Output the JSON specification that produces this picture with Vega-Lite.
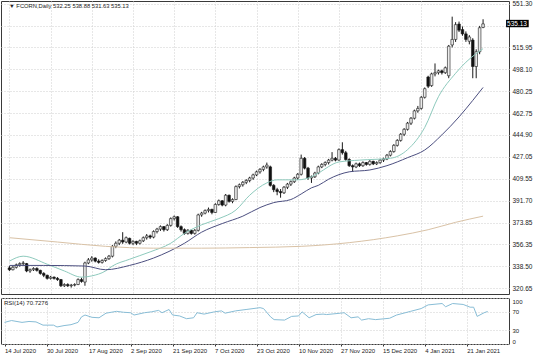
{
"$schema": "https://vega.github.io/schema/vega-lite/v6.json",
"padding": 0,
"spacing": 2,
"background": "white",
"config": {
  "view": {"stroke": "#3a3a3a", "strokeWidth": 1},
  "axis": {"labelFont": "Liberation Sans", "labelColor": "#222", "gridColor": "#cfcfcf", "gridDash": [1, 2], "gridWidth": 1, "title": null, "labelOverlap": false},
  "text": {"font": "Liberation Sans"}
},
"datasets": {
  "bars": [
    {"i":0,"o":337,"h":338.5,"l":334.5,"c":335.5},{"i":1,"o":335.5,"h":338.5,"l":335,"c":337.5},{"i":2,"o":337.5,"h":340.5,"l":336.5,"c":339.5},{"i":3,"o":339.5,"h":341.5,"l":338,"c":340.5},{"i":4,"o":340.5,"h":342.5,"l":339,"c":341},
    {"i":5,"o":340.5,"h":341,"l":333.5,"c":334.5},{"i":6,"o":334.5,"h":336.5,"l":333,"c":335.5},{"i":7,"o":335.5,"h":337.5,"l":334.5,"c":336.5},{"i":8,"o":336.5,"h":337.5,"l":334,"c":335},{"i":9,"o":335,"h":335.5,"l":331.5,"c":332.5},
    {"i":10,"o":332.5,"h":333.5,"l":329.5,"c":331},{"i":11,"o":331,"h":331.5,"l":327.5,"c":328.5},{"i":12,"o":328.5,"h":330.5,"l":327.5,"c":329.5},{"i":13,"o":329.5,"h":330,"l":327.5,"c":328.5},{"i":14,"o":328.5,"h":329.5,"l":326.5,"c":327.5},
    {"i":15,"o":327.5,"h":328,"l":321.5,"c":322.5},{"i":16,"o":322.5,"h":324.5,"l":321.5,"c":323.5},{"i":17,"o":323.5,"h":324.5,"l":321.5,"c":322.5},{"i":18,"o":322.5,"h":324,"l":321,"c":323},{"i":19,"o":323,"h":324.5,"l":322,"c":323.5},
    {"i":20,"o":323.5,"h":328.5,"l":323,"c":327.5},{"i":21,"o":327.5,"h":329,"l":325,"c":326},{"i":22,"o":325.5,"h":342,"l":322.5,"c":341},{"i":23,"o":341,"h":345,"l":340,"c":343.5},{"i":24,"o":343.5,"h":346.5,"l":342,"c":345},
    {"i":25,"o":345,"h":345.5,"l":341.5,"c":342.5},{"i":26,"o":342.5,"h":344,"l":340.5,"c":341.5},{"i":27,"o":341.5,"h":344,"l":340.5,"c":343},{"i":28,"o":343,"h":345.5,"l":342,"c":344.5},{"i":29,"o":344.5,"h":347.5,"l":343.5,"c":346.5},
    {"i":30,"o":346.5,"h":355.5,"l":345.5,"c":354.5},{"i":31,"o":354.5,"h":358.5,"l":353,"c":357},{"i":32,"o":357,"h":360.5,"l":355.5,"c":359.5},{"i":33,"o":359.5,"h":366,"l":356.5,"c":358},{"i":34,"o":358,"h":362.5,"l":357,"c":361.5},
    {"i":35,"o":361,"h":361.5,"l":356,"c":357},{"i":36,"o":357,"h":359.5,"l":355.5,"c":358.5},{"i":37,"o":358.5,"h":359,"l":355.5,"c":357},{"i":38,"o":357,"h":360,"l":356,"c":359},{"i":39,"o":359,"h":362.5,"l":358,"c":361.5},
    {"i":40,"o":361.5,"h":364.5,"l":360,"c":363},{"i":41,"o":363,"h":364,"l":360.5,"c":362},{"i":42,"o":362,"h":367.5,"l":361,"c":366.5},{"i":43,"o":366.5,"h":369.5,"l":365,"c":368.5},{"i":44,"o":368.5,"h":371.5,"l":367,"c":370.5},
    {"i":45,"o":370.5,"h":371,"l":366.5,"c":368},{"i":46,"o":368,"h":372.5,"l":367,"c":371.5},{"i":47,"o":371.5,"h":378,"l":370.5,"c":377},{"i":48,"o":377,"h":379.5,"l":375.5,"c":378.5},{"i":49,"o":378.5,"h":379,"l":369.5,"c":370.5},
    {"i":50,"o":370.5,"h":371.5,"l":366.5,"c":368},{"i":51,"o":368,"h":369,"l":364,"c":365},{"i":52,"o":365,"h":368.5,"l":364,"c":367.5},{"i":53,"o":367.5,"h":368,"l":364,"c":365},{"i":54,"o":365,"h":368.5,"l":364,"c":367.5},
    {"i":55,"o":367.5,"h":381,"l":366.5,"c":380},{"i":56,"o":380,"h":382.5,"l":378.5,"c":381.5},{"i":57,"o":381.5,"h":384.5,"l":380.5,"c":383.5},{"i":58,"o":383.5,"h":386,"l":382,"c":384.5},{"i":59,"o":384.5,"h":385,"l":380.5,"c":382},
    {"i":60,"o":382,"h":389.5,"l":381.5,"c":388.5},{"i":61,"o":388.5,"h":392.5,"l":387.5,"c":391.5},{"i":62,"o":391.5,"h":392,"l":387,"c":388},{"i":63,"o":388,"h":397,"l":387,"c":396},{"i":64,"o":396,"h":396.5,"l":390,"c":391},
    {"i":65,"o":391,"h":393.5,"l":389.5,"c":392.5},{"i":66,"o":392.5,"h":404,"l":392,"c":403},{"i":67,"o":403,"h":405.5,"l":401.5,"c":404.5},{"i":68,"o":404.5,"h":407.5,"l":403,"c":406.5},{"i":69,"o":406.5,"h":409,"l":405,"c":408},
    {"i":70,"o":408,"h":411,"l":406.5,"c":410},{"i":71,"o":410,"h":413.5,"l":408.5,"c":412.5},{"i":72,"o":412.5,"h":416,"l":411.5,"c":415},{"i":73,"o":415,"h":418,"l":413.5,"c":417},{"i":74,"o":417,"h":420,"l":415.5,"c":419},
    {"i":75,"o":419,"h":422.5,"l":417.5,"c":420.5},{"i":76,"o":419,"h":420,"l":403,"c":404},{"i":77,"o":404,"h":405,"l":398.5,"c":400.5},{"i":78,"o":400.5,"h":402,"l":396,"c":399},{"i":79,"o":399,"h":401,"l":394,"c":398},
    {"i":80,"o":398,"h":403.5,"l":397,"c":402.5},{"i":81,"o":402.5,"h":406,"l":401,"c":405},{"i":82,"o":405,"h":408,"l":403.5,"c":407},{"i":83,"o":407,"h":411,"l":406,"c":410},{"i":84,"o":410,"h":414,"l":408.5,"c":413},
    {"i":85,"o":413,"h":429,"l":412,"c":426},{"i":86,"o":426,"h":427,"l":417,"c":418},{"i":87,"o":418,"h":419,"l":408.5,"c":410},{"i":88,"o":410,"h":412,"l":406,"c":411},{"i":89,"o":411,"h":415,"l":410,"c":414},
    {"i":90,"o":414,"h":420,"l":413,"c":419},{"i":91,"o":419,"h":422,"l":418,"c":421},{"i":92,"o":421,"h":423.5,"l":419.5,"c":422.5},{"i":93,"o":422.5,"h":425.5,"l":421,"c":424.5},{"i":94,"o":424.5,"h":431,"l":423.5,"c":426},
    {"i":95,"o":426,"h":427,"l":423.5,"c":424.5},{"i":96,"o":424.5,"h":434,"l":424,"c":433},{"i":97,"o":433,"h":439,"l":429,"c":430.5},{"i":98,"o":430.5,"h":432,"l":424,"c":425},{"i":99,"o":425,"h":426,"l":419,"c":420},
    {"i":100,"o":420,"h":421,"l":415,"c":419},{"i":101,"o":419,"h":422.5,"l":418,"c":421.5},{"i":102,"o":421.5,"h":422.5,"l":419,"c":420},{"i":103,"o":420,"h":423.5,"l":419,"c":422.5},{"i":104,"o":422.5,"h":423,"l":420,"c":421},
    {"i":105,"o":421,"h":424.5,"l":420,"c":423.5},{"i":106,"o":423.5,"h":424,"l":420.5,"c":421.5},{"i":107,"o":421.5,"h":423.5,"l":420.5,"c":422.5},{"i":108,"o":422.5,"h":425.5,"l":421.5,"c":424.5},{"i":109,"o":424.5,"h":426.5,"l":423,"c":425.5},
    {"i":110,"o":425.5,"h":429.5,"l":424.5,"c":428.5},{"i":111,"o":428.5,"h":432.5,"l":427.5,"c":431.5},{"i":112,"o":431.5,"h":437.5,"l":430.5,"c":436.5},{"i":113,"o":436.5,"h":441.5,"l":435.5,"c":440.5},{"i":114,"o":440.5,"h":446.5,"l":439.5,"c":445.5},
    {"i":115,"o":445.5,"h":450.5,"l":444,"c":449.5},{"i":116,"o":449.5,"h":455.5,"l":448.5,"c":454.5},{"i":117,"o":454.5,"h":459.5,"l":453,"c":458.5},{"i":118,"o":458.5,"h":465.5,"l":457.5,"c":464.5},{"i":119,"o":464.5,"h":468.5,"l":463,"c":466.5},
    {"i":120,"o":466.5,"h":476.5,"l":465.5,"c":475.5},{"i":121,"o":475.5,"h":483.5,"l":474.5,"c":482.5},{"i":122,"o":492,"h":493,"l":483,"c":484.5},{"i":123,"o":485,"h":495.5,"l":484,"c":494.5},{"i":124,"o":494.5,"h":503,"l":492.5,"c":495.5},
    {"i":125,"o":495.5,"h":498,"l":494,"c":497},{"i":126,"o":497,"h":498,"l":494,"c":495.5},{"i":127,"o":495.5,"h":500.5,"l":494.5,"c":499.5},{"i":128,"o":493,"h":518,"l":491,"c":517},{"i":129,"o":518,"h":541,"l":516,"c":522.5},
    {"i":130,"o":522.5,"h":536.5,"l":520.5,"c":534.5},{"i":131,"o":535,"h":537,"l":528.5,"c":530},{"i":132,"o":530.5,"h":533,"l":525.5,"c":527},{"i":133,"o":527,"h":529,"l":520.5,"c":522.5},{"i":134,"o":521,"h":526,"l":518.5,"c":524.5},
    {"i":135,"o":522,"h":523.5,"l":491,"c":500.5},{"i":136,"o":500.5,"h":514.5,"l":491,"c":512.5},{"i":137,"o":512.5,"h":533.5,"l":510.5,"c":532},{"i":138,"o":532.25,"h":538.88,"l":531.63,"c":535.13}
  ],
  "ma": [
    {"s":"fast","i":0,"v":342.5},{"s":"fast","i":4,"v":346.5},{"s":"fast","i":11,"v":340},{"s":"fast","i":16,"v":334.5},{"s":"fast","i":21,"v":329.5},{"s":"fast","i":24,"v":330.5},{"s":"fast","i":28,"v":334.5},{"s":"fast","i":30,"v":338.5},{"s":"fast","i":35,"v":344},{"s":"fast","i":41,"v":350},{"s":"fast","i":47,"v":357},{"s":"fast","i":51,"v":365},{"s":"fast","i":56,"v":372},{"s":"fast","i":61,"v":377},{"s":"fast","i":66,"v":384},{"s":"fast","i":70,"v":396},{"s":"fast","i":75,"v":406},{"s":"fast","i":78,"v":408.5},{"s":"fast","i":84,"v":408.5},{"s":"fast","i":88,"v":411},{"s":"fast","i":90,"v":414},{"s":"fast","i":96,"v":423},{"s":"fast","i":102,"v":424.5},{"s":"fast","i":111,"v":426},{"s":"fast","i":116,"v":433},{"s":"fast","i":121,"v":451},{"s":"fast","i":125,"v":476},{"s":"fast","i":130,"v":495},{"s":"fast","i":133,"v":504},{"s":"fast","i":136,"v":511},{"s":"fast","i":138,"v":515},
    {"s":"slow","i":0,"v":339},{"s":"slow","i":10,"v":339},{"s":"slow","i":22,"v":338.5},{"s":"slow","i":28,"v":335.5},{"s":"slow","i":35,"v":339},{"s":"slow","i":42,"v":345},{"s":"slow","i":51,"v":357},{"s":"slow","i":56,"v":366},{"s":"slow","i":62,"v":373},{"s":"slow","i":68,"v":379},{"s":"slow","i":73,"v":386},{"s":"slow","i":77,"v":390},{"s":"slow","i":82,"v":392.5},{"s":"slow","i":85,"v":397},{"s":"slow","i":88,"v":402},{"s":"slow","i":90,"v":404},{"s":"slow","i":93,"v":409},{"s":"slow","i":99,"v":415},{"s":"slow","i":105,"v":416.5},{"s":"slow","i":110,"v":420},{"s":"slow","i":116,"v":426.5},{"s":"slow","i":121,"v":432.7},{"s":"slow","i":126,"v":445},{"s":"slow","i":131,"v":459.6},{"s":"slow","i":135,"v":473},{"s":"slow","i":138,"v":483.5},
    {"s":"long","i":0,"v":361.5},{"s":"long","i":14,"v":358},{"s":"long","i":28,"v":354.5},{"s":"long","i":42,"v":353},{"s":"long","i":56,"v":353},{"s":"long","i":70,"v":353.5},{"s":"long","i":85,"v":354.5},{"s":"long","i":99,"v":357.5},{"s":"long","i":113,"v":363},{"s":"long","i":122,"v":368},{"s":"long","i":130,"v":374},{"s":"long","i":138,"v":379}
  ],
  "rsi": [
    {"i":0,"v":47},{"i":2,"v":51},{"i":5,"v":47},{"i":7,"v":49},{"i":9,"v":48},{"i":11,"v":41},{"i":14,"v":41},{"i":15,"v":37},{"i":17,"v":40},{"i":19,"v":42},{"i":21,"v":47},{"i":22,"v":59},{"i":23,"v":63},{"i":25,"v":58},{"i":27,"v":57},{"i":29,"v":67},{"i":32,"v":71},{"i":34,"v":69},{"i":36,"v":68},{"i":37,"v":63},{"i":40,"v":68},{"i":42,"v":70},{"i":44,"v":73},{"i":45,"v":68},{"i":47,"v":75},{"i":48,"v":63},{"i":50,"v":61},{"i":52,"v":55},{"i":54,"v":57},{"i":55,"v":68},{"i":57,"v":65},{"i":60,"v":70},{"i":62,"v":72},{"i":63,"v":67},{"i":66,"v":72},{"i":69,"v":75},{"i":73,"v":79},{"i":74,"v":77},{"i":76,"v":59},{"i":77,"v":53},{"i":80,"v":52},{"i":82,"v":60},{"i":84,"v":61},{"i":85,"v":70},{"i":87,"v":57},{"i":89,"v":64},{"i":91,"v":65},{"i":92,"v":64},{"i":96,"v":67},{"i":97,"v":68},{"i":99,"v":57},{"i":101,"v":59},{"i":102,"v":52},{"i":104,"v":55},{"i":106,"v":53},{"i":110,"v":56},{"i":112,"v":63},{"i":116,"v":71},{"i":119,"v":77},{"i":121,"v":85},{"i":125,"v":88},{"i":126,"v":81},{"i":128,"v":88},{"i":131,"v":86},{"i":133,"v":80},{"i":134,"v":80},{"i":135,"v":60},{"i":137,"v":68},{"i":138,"v":70.73}
  ]
},
"vconcat": [
  {
    "width": 508,
    "height": 293,
    "layer": [
      {
        "data": {"name": "bars"},
        "mark": {"type": "rule", "color": "#1a1a1a", "strokeWidth": 1},
        "encoding": {
          "x": {"field": "i", "type": "quantitative", "scale": {"domain": [-1, 144.1], "nice": false, "zero": false},
                "axis": {"values": [0,12,24,36,48,60,72,84,96,108,120,132], "tickCount": 20, "labels": false, "ticks": false, "domain": false, "grid": true, "title": null}},
          "y": {"field": "l", "type": "quantitative", "scale": {"domain": [315.8, 553.7], "nice": false, "zero": false},
                "axis": {"orient": "right", "values": [320.65,338.5,356.35,373.85,391.7,409.55,427.05,444.9,462.75,480.25,498.1,515.95,533.8,551.3], "tickCount": 20,
                         "labelExpr": "datum.value == 533.8 ? '' : format(datum.value, '.2f')", "ticks": false, "labelPadding": 3, "domain": false, "grid": true, "labelFontSize": 6.5, "labelOverlap": false, "labelBound": false, "title": null}},
          "y2": {"field": "h"}
        }
      },
      {
        "data": {"name": "bars"},
        "mark": {"type": "bar", "size": 2.6, "stroke": "#1a1a1a", "strokeWidth": 0.6},
        "encoding": {
          "x": {"field": "i", "type": "quantitative", "scale": {"domain": [-1, 144.1], "nice": false, "zero": false}},
          "y": {"field": "o", "type": "quantitative", "scale": {"domain": [315.8, 553.7], "nice": false, "zero": false}},
          "y2": {"field": "c"},
          "fill": {"condition": {"test": "datum.c >= datum.o", "value": "#ececec"}, "value": "#111111"}
        }
      },
      {
        "data": {"name": "ma"},
        "mark": {"type": "line", "strokeWidth": 1, "interpolate": "monotone"},
        "encoding": {
          "x": {"field": "i", "type": "quantitative", "scale": {"domain": [-1, 144.1], "nice": false, "zero": false}},
          "y": {"field": "v", "type": "quantitative", "scale": {"domain": [315.8, 553.7], "nice": false, "zero": false}},
          "color": {"field": "s", "type": "nominal", "scale": {"domain": ["fast", "slow", "long"], "range": ["#8ecabd", "#4c4f80", "#d9c2a6"]}, "legend": null}
        }
      },
      {
        "data": {"values": [{}]},
        "mark": {"type": "text", "align": "left", "baseline": "top", "dx": 3, "dy": 2, "fontSize": 5.8, "color": "#222", "text": "▼ FCORN,Daily 532.25 538.88 531.63 535.13"},
        "encoding": {
          "x": {"datum": -1, "type": "quantitative", "scale": {"domain": [-1, 144.1], "nice": false, "zero": false}},
          "y": {"datum": 553.7, "type": "quantitative", "scale": {"domain": [315.8, 553.7], "nice": false, "zero": false}}
        }
      },
      {
        "data": {"values": [{}]},
        "mark": {"type": "rect", "color": "#000000", "clip": false},
        "encoding": {
          "x": {"datum": 144.7, "type": "quantitative", "scale": {"domain": [-1, 144.1], "nice": false, "zero": false}},
          "x2": {"datum": 151.3},
          "y": {"datum": 538.4, "type": "quantitative", "scale": {"domain": [315.8, 553.7], "nice": false, "zero": false}},
          "y2": {"datum": 532.4}
        }
      },
      {
        "data": {"values": [{}]},
        "mark": {"type": "text", "align": "left", "baseline": "middle", "fontSize": 6.5, "color": "#ffffff", "text": "535.13", "clip": false, "dx": 1},
        "encoding": {
          "x": {"datum": 144.7, "type": "quantitative", "scale": {"domain": [-1, 144.1], "nice": false, "zero": false}},
          "y": {"datum": 535.4, "type": "quantitative", "scale": {"domain": [315.8, 553.7], "nice": false, "zero": false}}
        }
      }
    ]
  },
  {
    "width": 508,
    "height": 46,
    "layer": [
      {
        "data": {"name": "rsi"},
        "mark": {"type": "line", "strokeWidth": 1, "color": "#88bdd6"},
        "encoding": {
          "x": {"field": "i", "type": "quantitative", "scale": {"domain": [-1, 144.1], "nice": false, "zero": false},
                "axis": {"values": [0,12,24,36,48,60,72,84,96,108,120,132], "tickCount": 20,
                         "labelExpr": "['14 Jul 2020','30 Jul 2020','17 Aug 2020','2 Sep 2020','21 Sep 2020','7 Oct 2020','23 Oct 2020','10 Nov 2020','27 Nov 2020','15 Dec 2020','4 Jan 2021','21 Jan 2021'][round(datum.value/12)]",
                         "labelAlign": "left", "labelBaseline": "top", "labelPadding": 1, "tickSize": 2, "tickColor": "#333", "domain": false, "grid": true, "labelFontSize": 6,
                         "labelOverlap": false, "labelFlush": false, "labelBound": false, "title": null}},
          "y": {"field": "v", "type": "quantitative", "scale": {"domain": [0, 100], "nice": false, "zero": false},
                "axis": {"orient": "right", "values": [0, 30, 70, 100], "tickCount": 10, "ticks": false, "labelPadding": 3, "domain": false, "grid": true, "labelFlush": true, "labelFontSize": 6, "title": null}}
        }
      },
      {
        "data": {"values": [{}]},
        "mark": {"type": "text", "align": "left", "baseline": "top", "dx": 3, "dy": 2, "fontSize": 6, "color": "#222", "text": "RSI(14) 70.7276"},
        "encoding": {
          "x": {"datum": -1, "type": "quantitative", "scale": {"domain": [-1, 144.1], "nice": false, "zero": false}},
          "y": {"datum": 100, "type": "quantitative", "scale": {"domain": [0, 100], "nice": false, "zero": false}}
        }
      }
    ]
  }
]
}
